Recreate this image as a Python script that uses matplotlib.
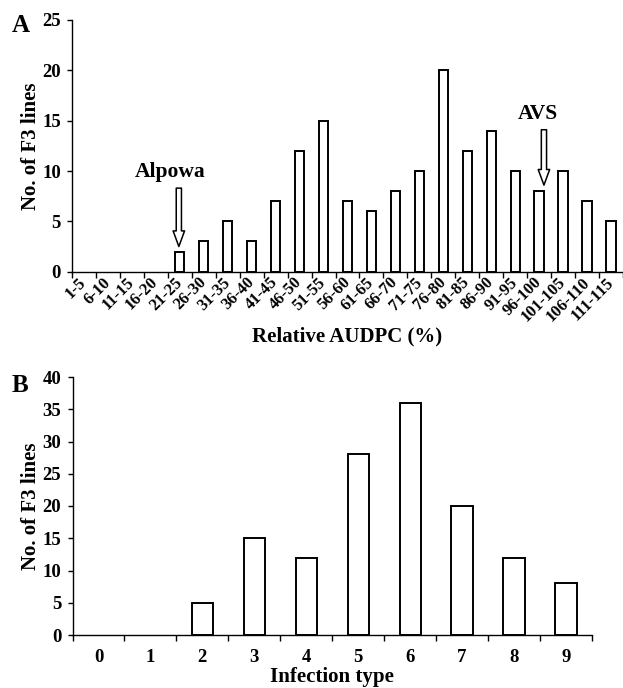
import matplotlib
matplotlib.use("Agg")
import matplotlib.pyplot as plt
import numpy as np

plt.rcParams['font.family'] = ['Liberation Serif', 'DejaVu Serif']
plt.rcParams['font.weight'] = 'bold'

audpc_bins = ["1-5", "6-10", "11-15", "16-20", "21-25", "26-30", "31-35", "36-40",
              "41-45", "46-50", "51-55", "56-60", "61-65", "66-70", "71-75", "76-80",
              "81-85", "86-90", "91-95", "96-100", "101-105", "106-110", "111-115"]
audpc_counts = [0, 0, 0, 0, 2, 3, 5, 3, 7, 12, 15, 7, 6, 8, 10, 20, 12, 14, 10, 8, 10, 7, 5]

it_classes = ["0", "1", "2", "3", "4", "5", "6", "7", "8", "9"]
it_counts = [0, 0, 5, 15, 12, 28, 36, 20, 12, 8]

W, H = 623, 688
fig = plt.figure(figsize=(W/100, H/100), dpi=100)

def style(ax):
    ax.spines['top'].set_visible(False)
    ax.spines['right'].set_visible(False)
    for s in ('left', 'bottom'):
        ax.spines[s].set_linewidth(1.0)
    ax.tick_params(axis='y', direction='out', length=3.6, width=1, labelsize=13.5, pad=4.5)
    ax.tick_params(axis='x', which='major', length=0)
    ax.tick_params(axis='x', which='minor', direction='out', length=4.5, width=1)

def edge_colors(vals):
    return ['black' if v > 0 else 'none' for v in vals]

# Panel A
a_left, a_right, a_top, a_bot = 72, 623, 20, 271.7
axA = fig.add_axes([a_left/W, 1-a_bot/H, (a_right-a_left)/W, (a_bot-a_top)/H])
xa = np.arange(len(audpc_bins))
axA.bar(xa, audpc_counts, width=0.39, facecolor='white',
        edgecolor=edge_colors(audpc_counts), linewidth=1.4)
axA.set_xlim(-0.5, -0.5 + (a_right - a_left) / 24.0)
axA.set_ylim(0, 25)
axA.set_yticks([0, 5, 10, 15, 20, 25])
axA.set_xticks(xa)
axA.set_xticklabels(audpc_bins, rotation=45, ha='right', va='center',
                    rotation_mode='anchor', fontsize=12)
axA.set_xticks(np.arange(-0.5, len(audpc_bins)), minor=True)
style(axA)
axA.tick_params(axis='x', which='major', pad=6)
axA.set_xlabel("Relative AUDPC (%)", fontsize=15, fontweight='bold', va='top')
axA.xaxis.set_label_coords(0.5, (a_bot - 326) / (a_bot - a_top))
axA.set_ylabel("No. of F3 lines", fontsize=15, fontweight='bold')
axA.yaxis.set_label_coords((41 - a_left) / (a_right - a_left), 0.5)

arrow_props = dict(arrowstyle='simple,head_length=0.75,head_width=0.55,tail_width=0.25',
                   facecolor='white', edgecolor='black', linewidth=1.1,
                   mutation_scale=15, shrinkA=0, shrinkB=0)
ia = audpc_bins.index("21-25")
axA.annotate('', xy=(ia - 0.04, 2.5), xytext=(ia - 0.04, 8.3), arrowprops=arrow_props)
axA.text(ia - 0.42, 9.9, "Alpowa", ha='center', va='center', fontsize=15.5, fontweight='bold')
iv = audpc_bins.index("96-100")
axA.annotate('', xy=(iv + 0.2, 8.6), xytext=(iv + 0.2, 14.1), arrowprops=arrow_props)
axA.text(iv - 0.04, 15.7, "AVS", ha='center', va='center', fontsize=15.5, fontweight='bold')

fig.text(21/W, 1-25/H, "A", fontsize=18, fontweight='bold', ha='center', va='center')

# Panel B
b_left, b_right, b_top, b_bot = 72.5, 592, 377, 635
axB = fig.add_axes([b_left/W, 1-b_bot/H, (b_right-b_left)/W, (b_bot-b_top)/H])
xb = np.arange(len(it_classes))
axB.bar(xb, it_counts, width=0.41, facecolor='white',
        edgecolor=edge_colors(it_counts), linewidth=1.4)
axB.set_xlim(-0.5, len(it_classes) - 0.5)
axB.set_ylim(0, 40)
axB.set_yticks(np.arange(0, 41, 5))
axB.set_xticks(xb)
axB.set_xticklabels(it_classes, fontsize=13.5)
axB.set_xticks(np.arange(-0.5, len(it_classes)), minor=True)
style(axB)
axB.tick_params(axis='x', which='major', pad=10)
axB.set_xlabel("Infection type", fontsize=15, fontweight='bold', va='bottom')
axB.xaxis.set_label_coords(0.5, (b_bot - 687) / (b_bot - b_top))
axB.set_ylabel("No. of F3 lines", fontsize=15, fontweight='bold')
axB.yaxis.set_label_coords((41 - b_left) / (b_right - b_left), 0.5)

fig.text(20/W, 1-385/H, "B", fontsize=18, fontweight='bold', ha='center', va='center')

fig.savefig("out.png", dpi=100)
